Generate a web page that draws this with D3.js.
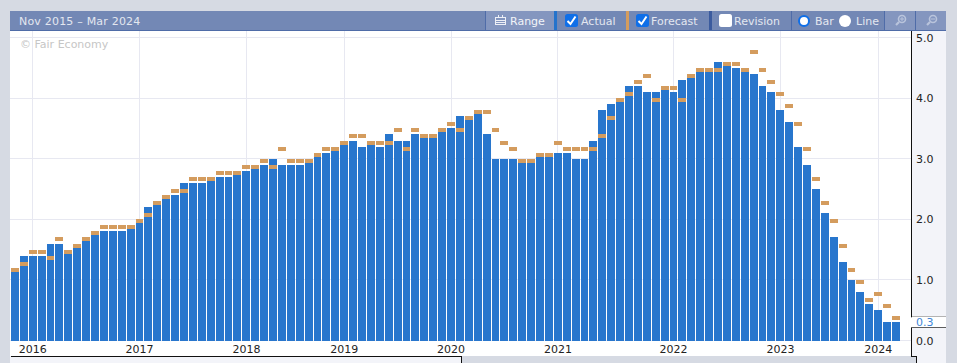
<!DOCTYPE html>
<html>
<head>
<meta charset="utf-8">
<script src="https://cdn.jsdelivr.net/npm/d3@7"></script>
<style>
  html, body { margin: 0; padding: 0; background: #d6dae3; overflow: hidden; }
  svg { display: block; font-family: "DejaVu Sans", sans-serif; font-size: 11px; }
</style>
</head>
<body>
<svg id="chart" width="957" height="363"></svg>
<script>
// Bars per calendar year, as they sit in the picture (first and last are partial)
const years = [2015, 2016, 2017, 2018, 2019, 2020, 2021, 2022, 2023, 2024];
const barsPerYear = [2, 12, 12, 11, 12, 12, 13, 12, 11, 3];

const actual = [
  1.2, 1.4, 1.4, 1.4, 1.6, 1.6, 1.5, 1.6, 1.7, 1.8,
  1.8, 1.8, 1.8, 1.9, 2.0, 2.2, 2.3, 2.4, 2.4, 2.6,
  2.6, 2.6, 2.7, 2.7, 2.7, 2.8, 2.8, 2.9, 2.9, 3.0,
  2.9, 2.9, 2.9, 3.0, 3.1, 3.1, 3.2, 3.3, 3.3, 3.2,
  3.3, 3.2, 3.4, 3.3, 3.3, 3.4, 3.4, 3.4, 3.5, 3.5,
  3.7, 3.7, 3.8, 3.4, 3.0, 3.0, 3.0, 3.0, 3.0, 3.1,
  3.1, 3.1, 3.1, 3.0, 3.0, 3.3, 3.8, 3.9, 4.0, 4.2,
  4.2, 4.1, 4.1, 4.2, 4.1, 4.3, 4.4, 4.5, 4.5, 4.6,
  4.6, 4.5, 4.5, 4.4, 4.2, 4.1, 3.8, 3.6, 3.2, 2.9,
  2.5, 2.1, 1.7, 1.3, 1.0, 0.8, 0.6, 0.5, 0.3, 0.3
];

const forecast = [
  1.2, 1.3, 1.5, 1.5, 1.4, 1.7, 1.5, 1.6, 1.7, 1.8,
  1.9, 1.9, 1.9, 1.9, 2.0, 2.1, 2.3, 2.4, 2.5, 2.5,
  2.7, 2.7, 2.7, 2.8, 2.8, 2.8, 2.9, 2.9, 3.0, 2.9,
  3.2, 3.0, 3.0, 3.0, 3.1, 3.2, 3.2, 3.3, 3.4, 3.4,
  3.3, 3.3, 3.3, 3.5, 3.2, 3.5, 3.4, 3.4, 3.5, 3.6,
  3.5, 3.7, 3.8, 3.8, 3.5, 3.3, 3.2, 3.0, 3.0, 3.1,
  3.1, 3.3, 3.2, 3.2, 3.2, 3.2, 3.4, 3.7, 4.0, 4.1,
  4.3, 4.4, 4.0, 4.2, 4.2, 4.0, 4.4, 4.5, 4.5, 4.5,
  4.6, 4.6, 4.5, 4.8, 4.5, 4.3, 4.1, 3.9, 3.6, 3.2,
  2.7, 2.3, 2.0, 1.6, 1.2, 1.0, 0.7, 0.8, 0.6, 0.4
];

const yTicks = [0, 1, 2, 3, 4, 5];
const latestValue = 0.3;

// category ids like "2016-0", one per bar
const categories = years.flatMap((yr, i) => d3.range(barsPerYear[i]).map(n => `${yr}-${n}`));
const yearTicks = years.slice(1).map(yr => `${yr}-0`);

const colors = {
  page: "#d6dae3", panel: "#f3f4f9", grid: "#e7e8f1",
  bar: "#2473cc", forecast: "#d49c5e",
  toolbar: "#7388b5", toolbarLight: "#8496bf", toolbarLine: "#4f6ca8", label: "#e3e7f0"
};

const svg = d3.select("#chart");

// --- Frame ---
svg.append("rect").attr("width", 957).attr("height", 363).attr("fill", colors.page);
svg.append("rect").attr("x", 10).attr("y", 30).attr("width", 902).attr("height", 326).attr("fill", "#fff");
svg.append("rect").attr("x", 912).attr("y", 30).attr("width", 34).attr("height", 333).attr("fill", colors.panel);
svg.append("rect").attr("x", 10).attr("y", 356).attr("width", 451).attr("height", 7).attr("fill", colors.panel);

// --- Scales ---
const x = d3.scaleBand().domain(categories).range([11, 900.1]).paddingInner(0.1);
const y = d3.scaleLinear().domain([0, 5]).range([340.5, 37.5]);

// snap bars to whole pixels so that a 1px gap always stays between them
const barLeft = i => Math.round(x(categories[i]));
const barWidth = i => Math.round(x(categories[i]) + x.step()) - 1 - barLeft(i);

// --- Grid ---
const grid = svg.append("g").attr("stroke", colors.grid).attr("shape-rendering", "crispEdges");
grid.selectAll("line.h").data(yTicks).enter().append("line")
    .attr("class", "h")
    .attr("x1", 10).attr("x2", 912)
    .attr("y1", d => y(d)).attr("y2", d => y(d));
grid.selectAll("line.v").data(yearTicks).enter().append("line")
    .attr("class", "v")
    .attr("x1", d => x(d) + x.bandwidth() / 2).attr("x2", d => x(d) + x.bandwidth() / 2)
    .attr("y1", 31).attr("y2", 341);

svg.append("text").attr("x", 20).attr("y", 48).attr("fill", "#c6c6c6").text("© Fair Economy");

// --- Bars and forecast dashes ---
svg.append("g").attr("shape-rendering", "crispEdges")
  .selectAll("rect").data(actual).enter().append("rect")
    .attr("x", (d, i) => barLeft(i))
    .attr("width", (d, i) => barWidth(i))
    .attr("y", d => Math.round(y(d)))
    .attr("height", d => 341 - Math.round(y(d)))
    .attr("fill", colors.bar)
    .attr("fill-opacity", 0.98);

svg.append("g").attr("shape-rendering", "crispEdges")
  .selectAll("rect").data(forecast).enter().append("rect")
    .attr("x", (d, i) => barLeft(i))
    .attr("width", (d, i) => barWidth(i))
    .attr("y", d => Math.round(y(d)))
    .attr("height", 4)
    .attr("fill", colors.forecast);

// --- Axes ---
const xAxis = svg.append("g")
    .attr("transform", "translate(0,341)")
    .call(d3.axisBottom(x).tickValues(yearTicks).tickSize(0).tickPadding(4).tickFormat(d => d.split("-")[0]));
xAxis.select(".domain").remove();

const yAxis = svg.append("g")
    .attr("transform", "translate(912,0)")
    .call(d3.axisRight(y).tickValues(yTicks).tickSize(0).tickPadding(4).tickFormat(d3.format(".1f")));
yAxis.select(".domain").remove();

xAxis.selectAll("text").attr("font-size", 11).attr("font-family", "DejaVu Sans").attr("fill", "#222");
yAxis.selectAll("text").attr("font-size", 11).attr("font-family", "DejaVu Sans").attr("fill", "#222");

// Black frame lines around the axis gutter and bottom strip
const frame = svg.append("g").attr("stroke", "#111").attr("fill", "none").attr("shape-rendering", "crispEdges");
frame.append("path").attr("d", "M10.5,356.5H461.5V363");
frame.append("path").attr("d", "M911.5,30V356.5H916.5V363");

// Latest value tag
const tagY = y(latestValue);
svg.append("rect").attr("x", 912).attr("y", tagY - 6).attr("width", 34).attr("height", 11).attr("fill", "#fff");
frame.append("path").attr("d", `M911.5,${Math.round(tagY - 6) + 0.5}H946`);
frame.append("path").attr("d", `M911.5,${Math.round(tagY + 5) + 0.5}H946`);
svg.append("rect").attr("x", 911).attr("y", tagY - 5).attr("width", 1).attr("height", 10).attr("fill", "#fff");
svg.append("text").attr("x", 916).attr("y", tagY + 4).attr("fill", "#3f86d8").text(latestValue.toFixed(1));

// bottom right strip of the page colour
svg.append("rect").attr("x", 462).attr("y", 356).attr("width", 449).attr("height", 7).attr("fill", colors.page);
svg.append("rect").attr("x", 912).attr("y", 357).attr("width", 4).attr("height", 6).attr("fill", colors.page);

// --- Toolbar ---
const bar = svg.append("g").attr("shape-rendering", "crispEdges");
bar.append("rect").attr("x", 10).attr("y", 11).attr("width", 936).attr("height", 19).attr("fill", colors.toolbar);
bar.append("rect").attr("x", 486).attr("y", 11).attr("width", 68).attr("height", 19).attr("fill", colors.toolbarLight);
bar.append("rect").attr("x", 885).attr("y", 11).attr("width", 61).attr("height", 19).attr("fill", colors.toolbarLight);
bar.append("rect").attr("x", 10).attr("y", 30).attr("width", 936).attr("height", 1).attr("fill", colors.toolbarLine);
[485, 791, 884, 915].forEach(px => {
  bar.append("rect").attr("x", px).attr("y", 11).attr("width", 1).attr("height", 19).attr("fill", colors.toolbarLine);
});
bar.append("rect").attr("x", 554).attr("y", 11).attr("width", 3).attr("height", 19).attr("fill", colors.bar);
bar.append("rect").attr("x", 626).attr("y", 11).attr("width", 3).attr("height", 19).attr("fill", colors.forecast);
bar.append("rect").attr("x", 709).attr("y", 11).attr("width", 3).attr("height", 19).attr("fill", "#3b5b9e");

function barText(px, str, color) {
  return svg.append("text").attr("x", px).attr("y", 25).attr("fill", color || colors.label).text(str);
}
barText(19, "Nov 2015 – Mar 2024").attr("letter-spacing", 0.2);
barText(510, "Range", "#f2f4f8");
barText(581, "Actual");
barText(651, "Forecast");
barText(734, "Revision");
barText(815, "Bar");
barText(856, "Line");

// Checkboxes
function checkbox(px, checked) {
  svg.append("rect").attr("x", px).attr("y", 14).attr("width", 13).attr("height", 13).attr("rx", 2.5)
      .attr("fill", checked ? "#0f6fe8" : "#fff");
  if (checked) {
    svg.append("path").attr("d", `M${px + 2.5},21 l3,3 l5,-7.5`)
        .attr("fill", "none").attr("stroke", "#fff").attr("stroke-width", 2);
  }
}
checkbox(565, true);
checkbox(636, true);
checkbox(719, false);

// Radio buttons
svg.append("circle").attr("cx", 804).attr("cy", 21).attr("r", 5).attr("fill", "#fff").attr("stroke", "#0f6fe8").attr("stroke-width", 2);
svg.append("circle").attr("cx", 845).attr("cy", 21).attr("r", 6).attr("fill", "#fff");

// Calendar icon for Range
const cal = svg.append("g").attr("fill", "none").attr("stroke", "#eef0f6").attr("stroke-width", 1).attr("shape-rendering", "crispEdges");
cal.append("rect").attr("x", 495.5).attr("y", 17.5).attr("width", 10).attr("height", 7);
cal.append("path").attr("d", "M495.5,20.5H505.5M498.5,15V18M502.5,15V18M495.5,22.5H505.5");

// Zoom icons
function zoomIcon(cx, plus) {
  const g = svg.append("g").attr("fill", "none").attr("stroke", "#b9c4dc");
  g.append("circle").attr("cx", cx + 1).attr("cy", 19).attr("r", 3.5).attr("stroke-width", 1.6);
  g.append("path").attr("d", `M${cx - 2},22 l-3,3`).attr("stroke-width", 2.2);
  g.append("path").attr("d", plus ? `M${cx - 1},19 h4 M${cx + 1},17 v4` : `M${cx - 1},19 h4`).attr("stroke-width", 1);
}
zoomIcon(901, true);
zoomIcon(932, false);
</script>
</body>
</html>
